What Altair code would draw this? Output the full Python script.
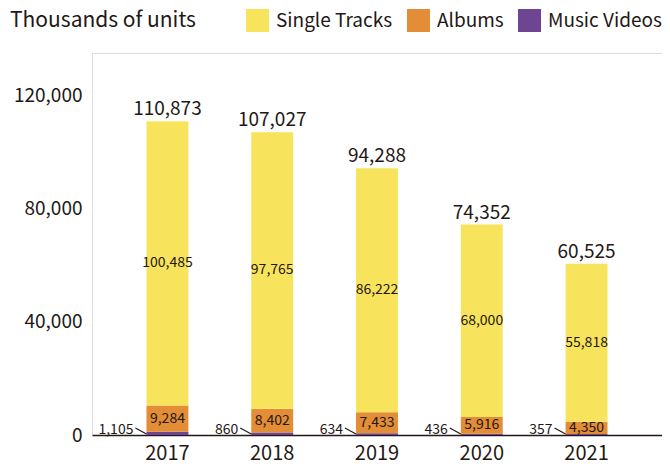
import altair as alt
import pandas as pd

years = ["2017", "2018", "2019", "2020", "2021"]
single_tracks = [100485, 97765, 86222, 68000, 55818]
albums = [9284, 8402, 7433, 5916, 4350]
music_videos = [1105, 860, 634, 436, 357]
totals = [110873, 107027, 94288, 74352, 60525]
y_ticks = [0, 40000, 80000, 120000]

categories = ["Single Tracks", "Albums", "Music Videos"]
colors = ["#f8e45c", "#e38d37", "#6e4592"]

FONT = "Noto Sans CJK JP"
INK = "#231815"

rows = []
for i, y in enumerate(years):
    lo = 0
    for cat, vals in (("Music Videos", music_videos), ("Albums", albums), ("Single Tracks", single_tracks)):
        v = vals[i]
        rows.append({"year": y, "category": cat, "value": v, "lo": lo, "hi": lo + v, "mid": lo + v / 2})
        lo += v
df = pd.DataFrame(rows)
tot = pd.DataFrame({"year": years, "total": totals})

x = alt.X("year:N", title=None, sort=years,
          scale=alt.Scale(paddingInner=0.6, paddingOuter=0.52),
          axis=alt.Axis(labelAngle=0, labelFontSize=20, labelFont=FONT, labelColor=INK,
                        domainColor=INK, domainWidth=1.5, ticks=False, labelPadding=8, grid=False))
yscale = alt.Scale(domain=[0, 135000], nice=False)
yaxis = alt.Axis(values=y_ticks, format=",", labelExpr="format(datum.value, ',')",
                 domain=False, ticks=False,
                 labelFontSize=19, labelFont=FONT, labelColor=INK, labelPadding=10,
                 gridColor="white", gridWidth=2)


def Y(field):
    return alt.Y(field, scale=yscale, title=None, axis=yaxis)


bars = alt.Chart(df).mark_bar().encode(
    x=x,
    y=Y("lo:Q"),
    y2="hi:Q",
    color=alt.Color("category:N", scale=alt.Scale(domain=categories, range=colors),
                    legend=alt.Legend(title=None, orient="none", direction="horizontal", columns=3,
                                      legendX=154, legendY=-44, symbolType="square", symbolSize=529,
                                      symbolStrokeWidth=0, symbolOpacity=1, labelFontSize=19,
                                      labelFont=FONT, labelColor=INK, labelOffset=7,
                                      columnPadding=14)),
)

mid_text = alt.Chart(df).transform_filter(
    alt.FieldOneOfPredicate(field="category", oneOf=["Single Tracks", "Albums"])
).mark_text(font=FONT, fontSize=14, color=INK, baseline="middle").encode(
    x=alt.X("year:N", sort=years), y=Y("mid:Q"), text=alt.Text("value:Q", format=",")
)

vid = df[df["category"] == "Music Videos"]
zero_y = alt.YDatum(0, scale=yscale, axis=yaxis, title=None)
vid_text = alt.Chart(vid).mark_text(font=FONT, fontSize=14, color=INK, align="right",
                                     baseline="alphabetic", xOffset=-34, dy=-1).encode(
    x=alt.X("year:N", sort=years), y=zero_y, text=alt.Text("value:Q", format=",")
)
vid_rule = alt.Chart(vid).mark_rule(color=INK, strokeWidth=1.2, xOffset=-32, x2Offset=-21,
                                     yOffset=-7, y2Offset=-1).encode(
    x=alt.X("year:N", sort=years), x2=alt.X2("year:N"), y=zero_y, y2=alt.Y2Datum(0)
)

tot_text = alt.Chart(tot).mark_text(font=FONT, fontSize=19, color=INK, baseline="alphabetic", dy=-6).encode(
    x=alt.X("year:N", sort=years), y=Y("total:Q"), text=alt.Text("total:Q", format=",")
)

title = alt.Chart(pd.DataFrame({"t": ["Thousands of units"]})).mark_text(
    font=FONT, fontSize=21, color=INK, align="left", baseline="alphabetic"
).encode(x=alt.value(-82), y=alt.value(-26), text="t:N")

chart = alt.layer(bars, mid_text, vid_rule, vid_text, tot_text, title).properties(
    width=570, height=382,
    autosize=alt.AutoSizeParams(type="none"),
    padding={"left": 84, "top": 45, "right": 0, "bottom": 27},
).configure_view(fill="#eeeeee", stroke=None).configure(background="white")

chart.save("out.html", embed_options={"renderer": "svg", "actions": False})
